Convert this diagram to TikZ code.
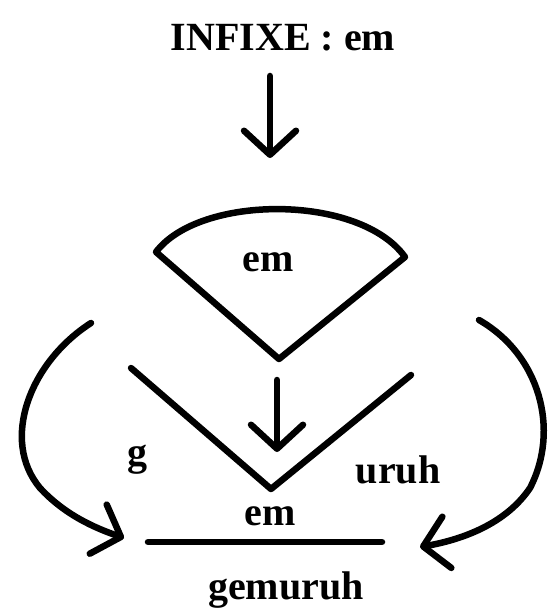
\documentclass[tikz,border=0pt]{standalone}
\usepackage{fontspec}
\setmainfont{Liberation Serif}
\usetikzlibrary{arrows.meta}
\begin{document}
\begin{tikzpicture}[x=1pt,y=-1pt,
  lbl/.style={font=\fontsize{40}{44}\selectfont\bfseries, inner sep=0pt},
  thick line/.style={line width=6.5pt, line cap=round, line join=round},
  barb/.style={-{Straight Barb[length=24pt,width=52pt,line cap=round,line join=round]}}]
\useasboundingbox (0,0) rectangle (559,612);
% texts
\node[lbl] (title) at (283,38) {INFIXE : em};
\node[lbl] (em1) at (268,262) {em};
\node[lbl] (em2) at (270,516) {em};
\node[lbl] (g) at (137,460) {g};
\node[lbl] (uruh) at (398,470) {uruh};
\node[lbl] (gem) at (286,590) {gemuruh};
% coordinates
\coordinate (a1s) at (270,76);
\coordinate (a1e) at (270,158);
\coordinate (sL) at (156,252);
\coordinate (sR) at (405,257);
\coordinate (sB) at (279,359);
\coordinate (vL) at (131,368);
\coordinate (vB) at (271,489);
\coordinate (vR) at (411,375);
\coordinate (a2s) at (277,380);
\coordinate (a2e) at (277,452);
\coordinate (hL) at (148,542);
\coordinate (hR) at (382,542);
\coordinate (lS) at (91,323);
\coordinate (lE) at (124,538);
\coordinate (rS) at (479,320);
\coordinate (rE) at (420,547);
% top arrow
\draw[thick line, barb] (a1s) -- (a1e);
% sector
\draw[thick line] (sB) -- (sL) .. controls (200,194) and (360,194) .. (sR) -- cycle;
% V shape
\draw[thick line] (vL) -- (vB) -- (vR);
% middle arrow
\draw[thick line, barb] (a2s) -- (a2e);
% bottom line
\draw[thick line] (hL) -- (hR);
% left curved arrow
\draw[thick line, barb] (lS) .. controls (30,362) and (0,440) .. (40,488) .. controls (65,515) and (95,528) .. (lE);
% right curved arrow
\draw[thick line, barb] (rS) .. controls (540,355) and (560,430) .. (530,488) .. controls (505,525) and (460,540) .. (rE);
\end{tikzpicture}
\end{document}
